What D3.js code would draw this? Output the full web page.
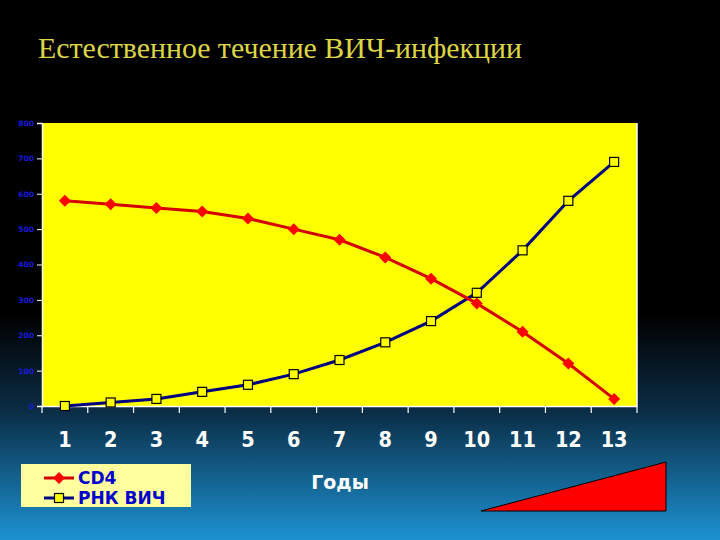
<!DOCTYPE html>
<html><head><meta charset="utf-8">
<script src="https://cdn.jsdelivr.net/npm/d3@7"></script>
<style>html,body{margin:0;padding:0;background:#000;}svg{display:block;}</style>
</head><body>
<svg id="c" width="720" height="540"></svg>
<script>
const years = ["1","2","3","4","5","6","7","8","9","10","11","12","13"];
const cd4 = [580, 570, 560, 550, 530, 500, 470, 420, 360, 290, 210, 120, 20];
const rna = [0, 10, 20, 40, 60, 90, 130, 180, 240, 320, 440, 580, 690];
const yTicks = [0, 100, 200, 300, 400, 500, 600, 700, 800];
const seriesNames = ["CD4", "РНК ВИЧ"];
const titleText = "Естественное течение ВИЧ-инфекции";
const xTitle = "Годы";

const svg = d3.select("#c");
const defs = svg.append("defs");
const g = defs.append("linearGradient").attr("id","bg").attr("x1",0).attr("y1",0).attr("x2",0).attr("y2",1);
g.append("stop").attr("offset","0").attr("stop-color","#000");
g.append("stop").attr("offset","0.58").attr("stop-color","#000");
g.append("stop").attr("offset","0.76").attr("stop-color","#0b2c45");
g.append("stop").attr("offset","1").attr("stop-color","#1c92d2");
svg.append("rect").attr("width",720).attr("height",540).attr("fill","url(#bg)");

svg.append("text").attr("x",38).attr("y",58).text(titleText)
  .attr("font-family","Liberation Serif, Times New Roman, serif").attr("font-size",29)
  .attr("fill","#dcd646").attr("textLength",484).attr("lengthAdjust","spacingAndGlyphs");

const L=42, R=637, T=123, B=406;
const x = d3.scaleBand().domain(years).range([L,R]);
const y = d3.scaleLinear().domain([0,800]).range([B,T]);

svg.append("rect").attr("x",L).attr("y",T).attr("width",R-L).attr("height",B-T).attr("fill","#ffff00");
svg.append("line").attr("x1",R).attr("x2",R).attr("y1",T).attr("y2",B).attr("stroke","#fff").attr("stroke-width",1.5);

// y axis
const ya = svg.append("g").attr("transform",`translate(${L},0)`)
  .call(d3.axisLeft(y).tickValues(yTicks).tickSize(5).tickPadding(3));
ya.select(".domain").attr("stroke","#fff").attr("stroke-width",1.5);
ya.selectAll(".tick line").attr("stroke","#fff");
ya.selectAll(".tick text").attr("fill","#1a1adc").attr("font-family","DejaVu Sans, sans-serif")
  .attr("font-weight","bold").attr("font-size",7.5);

// x axis
const xa = svg.append("g").attr("transform",`translate(0,${B})`)
  .call(d3.axisBottom(x).tickSize(0).tickPadding(25));
xa.select(".domain").attr("stroke","#fff").attr("stroke-width",1.5);
xa.selectAll(".tick text").attr("fill","#fff").attr("font-family","DejaVu Sans, sans-serif")
  .attr("font-weight","bold").attr("font-size",22)
  .each(function(){ const w=this.getComputedTextLength(); d3.select(this).attr("textLength",w*0.88).attr("lengthAdjust","spacingAndGlyphs"); });
// boundary ticks
const bounds = years.map(d=>x(d)).concat([R]);
svg.append("g").selectAll("line").data(bounds).join("line")
  .attr("x1",d=>d).attr("x2",d=>d).attr("y1",B).attr("y2",B+7).attr("stroke","#fff").attr("stroke-width",1.2);

const cx = d => x(d)+x.bandwidth()/2;
const line = d3.line().x((d,i)=>cx(years[i])).y(d=>y(d));

svg.append("path").datum(rna).attr("d",line).attr("fill","none").attr("stroke","#000080").attr("stroke-width",3);
svg.append("path").datum(cd4).attr("d",line).attr("fill","none").attr("stroke","#d40000").attr("stroke-width",3);

const dia = "M0,-6L6,0L0,6L-6,0Z";
svg.append("g").selectAll("path").data(cd4).join("path")
  .attr("d",dia).attr("transform",(d,i)=>`translate(${cx(years[i])},${y(d)})`).attr("fill","#ff0000");
svg.append("g").selectAll("rect").data(rna).join("rect")
  .attr("x",(d,i)=>cx(years[i])-4.5).attr("y",d=>y(d)-4.5).attr("width",9).attr("height",9)
  .attr("fill","#ffff00").attr("stroke","#000").attr("stroke-width",1.2);

// legend
svg.append("rect").attr("x",21).attr("y",464).attr("width",170).attr("height",43).attr("fill","#ffffa0");
const lg = svg.append("g");
const lcol = ["#d40000","#000080"];
seriesNames.forEach((n,i)=>{
  const yy = 478 + i*20;
  lg.append("line").attr("x1",44).attr("x2",74).attr("y1",yy).attr("y2",yy).attr("stroke",lcol[i]).attr("stroke-width",3);
  if(i===0) lg.append("path").attr("d",dia).attr("transform",`translate(59,${yy})`).attr("fill","#ff0000");
  else lg.append("rect").attr("x",54.5).attr("y",yy-4.5).attr("width",9).attr("height",9).attr("fill","#ffff00").attr("stroke","#000").attr("stroke-width",1.2);
  lg.append("text").attr("x",78).attr("y",yy+6).text(n).attr("fill","#0000cc")
    .attr("font-family","DejaVu Sans, sans-serif").attr("font-weight","bold").attr("font-size",17);
});

svg.append("text").attr("x",340).attr("y",489).attr("text-anchor","middle").text(xTitle)
  .attr("fill","#fff").attr("font-family","DejaVu Sans, sans-serif").attr("font-weight","bold").attr("font-size",19);

// triangle
svg.append("path").attr("d",d3.line()([[481,511],[666,511],[666,462]])+"Z")
  .attr("fill","#ff0000").attr("stroke","#000").attr("stroke-width",1);
</script>
</body></html>
